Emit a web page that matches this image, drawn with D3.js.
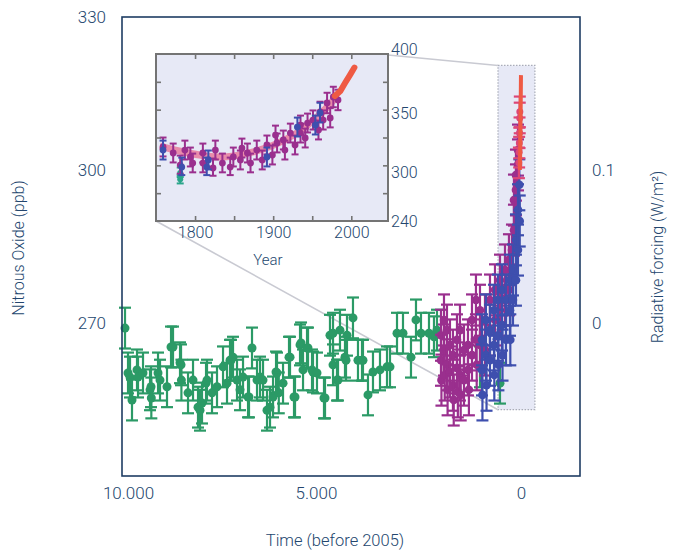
<!DOCTYPE html>
<html>
<head>
<meta charset="utf-8">
<script src="https://cdn.jsdelivr.net/npm/d3@7"></script>
<style>
  body { margin: 0; background: #fff; }
  text { font-family: Roboto, "Open Sans", "Liberation Sans", sans-serif; font-weight: 300; fill: #23466e; }
</style>
</head>
<body>
<div id="chart"></div>
<script>
// ---- data: main panel, [years before 2005, N2O ppb] ----
var mainGreen = [[10080,269.0],[10000,260.2],[9947,259.4],[9894,254.9],[9761,260.8],[9734,259.4],[9601,260.2],
  [9415,256.9],[9388,257.5],[9380,255.3],[9202,260.2],[9149,258.8],[8963,257.5],[8856,265.3],[8803,265.3],
  [8617,262.2],[8590,261.8],[8580,258.8],[8404,256.3],[8271,258.8],[8138,253.5],[8085,252.9],[8032,254.3],
  [7925,258.2],[7899,258.8],[7766,256.3],[7633,257.5],[7473,261.4],[7367,258.2],[7287,262.7],[7260,262.7],
  [7207,263.3],[7101,258.8],[7021,256.9],[6941,259.4],[6808,255.5],[6782,255.5],[6702,265.1],[6569,258.8],
  [6489,259.4],[6409,258.8],[6303,252.9],[6223,253.5],[6143,255.5],[6063,260.4],[6037,260.2],[5990,256.3],
  [5877,258.2],[5718,263.3],[5691,263.3],[5585,255.5],[5558,255.5],[5425,265.7],[5398,266.1],[5345,260.8],
  [5239,265.1],[5212,265.1],[5106,260.8],[5080,260.4],[4976,260.2],[4805,255.3],[4780,255.3],[4659,267.6],
  [4585,268.0],[4585,261.8],[4488,258.8],[4463,258.8],[4415,268.6],[4293,263.3],[4268,262.7],[4244,267.6],
  [4098,271.0],[3976,262.7],[3878,262.7],[3854,262.7],[3732,255.9],[3610,260.4],[3439,260.8],[3268,261.4],
  [3195,261.4],[3024,268.0],[2878,268.0],[2683,263.3],[2561,270.6],[2439,268.0],[2244,268.0],[2122,267.3],
  [2049,268.6],[1000,261.4],[512,258.2]];
var mainMagenta = [[1951,267.6],[1951,262.7],[1940,258.8],[1878,270.6],[1878,264.7],[1860,259.8],[1805,268.6],
  [1805,261.8],[1790,256.9],[1732,265.7],[1732,260.4],[1659,263.7],[1659,257.8],[1640,254.9],[1561,266.7],
  [1561,261.2],[1540,256.5],[1488,268.6],[1488,259.8],[1470,255.9],[1390,264.7],[1390,258.8],[1293,265.7],
  [1293,260.8],[1270,256.9],[1195,270.6],[1195,263.7],[1098,274.5],[1098,266.7],[1080,261.8],[1000,272.5],
  [1000,265.7],[878,270.6],[878,264.7],[756,274.5],[756,268.6],[634,276.5],[634,270.6],[512,278.4],[512,272.5],
  [390,280.4],[390,274.5],[293,282.4],[293,276.5],[220,284.3],[171,288.2],[171,294.1],[122,296.1],[122,299.0],
  [73,301.0],[73,303.9]];
var mainBlue = [[951,266.7],[951,260.8],[940,255.9],[854,270.6],[854,263.7],[840,257.8],[756,268.6],[756,262.7],
  [659,272.5],[659,265.7],[650,259.8],[561,274.5],[561,267.6],[550,261.8],[463,276.5],[463,269.6],[450,263.7],
  [366,274.5],[366,266.7],[268,278.4],[268,272.5],[260,266.7],[195,280.4],[195,274.5],[122,286.3],[122,278.4],
  [73,292.2],[73,284.3],[40,297.1],[30,290.0]];
var mainPink = [[50,301.4],[45,303.5],[40,305.3],[35,307.3],[30,310.2],[28,311.4]];
var mainRed = [[27,300.0],[20,303.0],[15,306.0],[10,310.0],[5,314.0],[0,318.6]];
// zoomed region marked on the main panel
var zoomBoxYears = [560, -340];
var zoomBoxPpb = [253, 320.5];

// ---- data: inset, [year AD, value on inset axis] ----
var insetMagenta = [[1759,321.2],[1772,316.1],[1794,312.7],[1797,307.6],[1810,316.1],[1810,307.6],[1835,307.6],
  [1849,312.7],[1858,310.2],[1867,316.1],[1879,318.6],[1892,322.9],[1905,324.6],[1913,327.1],[1922,333.0],
  [1935,333.0],[1944,341.5],[1951,344.0],[1964,344.0],[1969,357.8],[1977,362.5],[1781,305.9],[1823,303.4],
  [1845,304.2],[1871,307.6],[1886,310.2],[1899,314.4],[1915,318.6],[1928,322.9],[1941,328.8],[1958,335.6],
  [1973,345.8],[1787,318.6],[1826,318.6],[1860,320.3],[1903,331.3],[1935,339.8],[1960,350.8],[1983,360.2]];
var insetBlue = [[1759,318.6],[1783,304.2],[1815,304.2],[1817,310.2],[1892,312.7],[1931,338.1],[1960,350.0],[1954,339.8]];
var insetGreen = [[1781,298.8],[1781,291.0]];
var insetPink = [[1755,322],[1785,317],[1815,313],[1840,312],[1870,316],[1900,322],[1930,332],[1960,348],[1980,362]];
var insetRed = [[1979,363.3],[1986,367.2],[1992,373.4],[1999,380.4],[2004,385.5]];

var xTicks = [10000, 5000, 0];
var yTicks = [270, 300, 330];
var forcingTicks = [0, 0.1];
var insetXTicks = [1800, 1850, 1900, 1950, 2000];
var insetXLabels = [1800, 1900, 2000];
var insetYLabels = [240, 300, 350, 400];

var width = 676, height = 552;
var svg = d3.select("#chart").append("svg")
  .attr("width", width).attr("height", height);

// main scales (the printed axis is slightly uneven, hence the extra stop)
var x = d3.scaleLinear().domain([10160, 5000, -1440]).range([122, 316, 580]);
var y = d3.scaleLinear().domain([240, 330]).range([476, 17]);
var yForcing = d3.scaleLinear().domain([-0.1, 0.2]).range([476, 17]);

var green = "#2b9a66", magenta = "#9a2f8e", blue = "#3e4fae", pink = "#dc4677", red = "#ef5a43";

// zoom box + connector lines
var bx0 = x(zoomBoxYears[0]), bx1 = x(zoomBoxYears[1]);
var by0 = y(zoomBoxPpb[1]), by1 = y(zoomBoxPpb[0]);
svg.append("rect")
  .attr("x", bx0).attr("y", by0).attr("width", bx1 - bx0).attr("height", by1 - by0)
  .style("fill", "#e7e9f6").style("stroke", "#a9acb8").style("stroke-width", 1.2)
  .style("stroke-dasharray", "1.5,1.5");

// inset scales
var ix = d3.scaleLinear().domain([1750, 2047]).range([156, 388]);
var iy = d3.scaleLinear().domain([240, 300, 350, 400]).range([221, 172, 113, 49]);
var iFrame = d3.scaleLinear().domain([0, 6]).range([221, 54]);

svg.append("line").attr("x1", 388).attr("y1", 55).attr("x2", bx0).attr("y2", by0)
  .style("stroke", "#c9cad2").style("stroke-width", 1.6);
svg.append("line").attr("x1", 156).attr("y1", 221).attr("x2", bx0).attr("y2", by1)
  .style("stroke", "#c9cad2").style("stroke-width", 1.6);

// error-bar markers
function drawSeries(g, data, sx, sy, color, err, cap, r, sw) {
  var pts = g.selectAll(null).data(data).enter().append("g");
  pts.append("line")
    .attr("x1", d => sx(d[0])).attr("x2", d => sx(d[0]))
    .attr("y1", d => sy(d[1] - err)).attr("y2", d => sy(d[1] + err))
    .style("stroke", color).style("stroke-width", sw);
  [-err, err].forEach(function (e) {
    pts.append("line")
      .attr("x1", d => sx(d[0]) - cap / 2).attr("x2", d => sx(d[0]) + cap / 2)
      .attr("y1", d => sy(d[1] + e)).attr("y2", d => sy(d[1] + e))
      .style("stroke", color).style("stroke-width", sw);
  });
  pts.append("circle")
    .attr("cx", d => sx(d[0])).attr("cy", d => sy(d[1])).attr("r", r)
    .style("fill", color);
}

var main = svg.append("g");
drawSeries(main, mainGreen, x, y, green, 4, 12, 4.5, 2.2);
drawSeries(main, mainMagenta, x, y, magenta, 5, 12, 4.3, 2.2);
drawSeries(main, mainBlue, x, y, blue, 5, 12, 4.3, 2.2);
drawSeries(main, mainPink, x, y, pink, 3, 12, 3.5, 2.2);
main.append("path").datum(mainRed)
  .attr("d", d3.line().x(d => x(d[0])).y(d => y(d[1])))
  .style("fill", "none").style("stroke", red).style("stroke-width", 4);

// main frame
svg.append("rect").attr("x", 122).attr("y", 17).attr("width", 458).attr("height", 459)
  .style("fill", "none").style("stroke", "#1f3d63").style("stroke-width", 1.6);

// main axes
var dotFormat = d3.formatLocale({ decimal: ",", thousands: ".", grouping: [3], currency: ["", ""] }).format(",");
function styleAxis(g, fs) {
  g.select(".domain").remove();
  g.selectAll("text").style("font-size", fs + "px")
    .style("font-family", "Roboto, 'Open Sans', sans-serif").attr("fill", "#23466e");
}
svg.append("g").attr("transform", "translate(122,0)")
  .call(d3.axisLeft(y).tickValues(yTicks).tickSize(0).tickPadding(16))
  .call(g => styleAxis(g, 17));
svg.append("g").attr("transform", "translate(0,476)")
  .call(d3.axisBottom(x).tickValues(xTicks).tickSize(0).tickPadding(11).tickFormat(dotFormat))
  .call(g => styleAxis(g, 17));
svg.append("g").attr("transform", "translate(580,0)")
  .call(d3.axisRight(yForcing).tickValues(forcingTicks).tickSize(0).tickPadding(12).tickFormat(d3.format(".1~f")))
  .call(g => styleAxis(g, 17));

svg.append("text")
  .attr("transform", "translate(24,248) rotate(-90)")
  .attr("text-anchor", "middle").style("font-size", "16px")
  .text("Nitrous Oxide (ppb)");
svg.append("text")
  .attr("transform", "translate(663,257) rotate(-90)")
  .attr("text-anchor", "middle").style("font-size", "16px")
  .text("Radiative forcing (W/m²)");
svg.append("text")
  .attr("x", 335).attr("y", 546)
  .attr("text-anchor", "middle").style("font-size", "16.5px")
  .text("Time (before 2005)");

// inset
var inset = svg.append("g");
inset.append("rect").attr("x", 156).attr("y", 54).attr("width", 232).attr("height", 167)
  .style("fill", "#e7e9f6");
inset.append("path").datum(insetPink)
  .attr("d", d3.line().curve(d3.curveBasis).x(d => ix(d[0])).y(d => iy(d[1])))
  .style("fill", "none").style("stroke", "#e8628a").style("stroke-width", 7).style("opacity", 0.7);
drawSeries(inset, insetGreen, ix, iy, "#2aa58a", 5, 7, 3, 2);
drawSeries(inset, insetMagenta, ix, iy, magenta, 8, 7, 3.4, 2);
drawSeries(inset, insetBlue, ix, iy, blue, 8, 7, 3.4, 2);
inset.append("path").datum(insetRed)
  .attr("d", d3.line().x(d => ix(d[0])).y(d => iy(d[1])))
  .style("fill", "none").style("stroke", red).style("stroke-width", 6).style("stroke-linecap", "round");
inset.append("rect").attr("x", 156).attr("y", 54).attr("width", 232).attr("height", 167)
  .style("fill", "none").style("stroke", "#747474").style("stroke-width", 2);

function frameTicks(g) {
  g.select(".domain").remove();
  g.selectAll("line").attr("stroke", "#747474").attr("stroke-width", 1.6);
}
inset.append("g").attr("transform", "translate(156,0)")
  .call(d3.axisLeft(iFrame).tickValues([1, 2, 3, 4, 5]).tickSize(-5).tickFormat(""))
  .call(frameTicks);
inset.append("g").attr("transform", "translate(388,0)")
  .call(d3.axisRight(iFrame).tickValues([1, 2, 3, 4, 5]).tickSize(-5).tickFormat(""))
  .call(frameTicks);
inset.append("g").attr("transform", "translate(0,54)")
  .call(d3.axisTop(ix).tickValues(insetXTicks).tickSize(-5).tickFormat(""))
  .call(frameTicks);
inset.append("g").attr("transform", "translate(0,221)")
  .call(d3.axisBottom(ix).tickValues(insetXTicks).tickSize(-5).tickFormat(""))
  .call(frameTicks);

inset.append("g").attr("transform", "translate(0,221)")
  .call(d3.axisBottom(ix).tickValues(insetXLabels).tickSize(0).tickPadding(6).tickFormat(d3.format("d")))
  .call(g => styleAxis(g, 16));
inset.append("g").attr("transform", "translate(388,0)")
  .call(d3.axisRight(iy).tickValues(insetYLabels).tickSize(0).tickPadding(3))
  .call(g => styleAxis(g, 16));
inset.append("text")
  .attr("x", 268).attr("y", 265)
  .attr("text-anchor", "middle").style("font-size", "15px")
  .text("Year");
</script>
</body>
</html>
